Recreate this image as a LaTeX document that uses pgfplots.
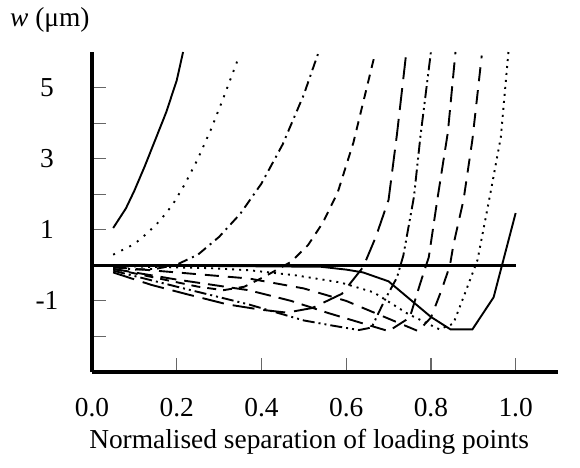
\documentclass[border=0pt]{standalone}
\usepackage{fontspec}
\setmainfont{Liberation Serif}
\usepackage{pgfplots}
\pgfplotsset{compat=1.18}
\begin{document}
\fontsize{27.5}{32}\selectfont
\begin{tikzpicture}
\useasboundingbox (-92bp,-96bp) rectangle (488bp,372bp);
\begin{axis}[
 at={(0,0)}, anchor=south west,
 scale only axis, width=466bp, height=320bp,
 xmin=0, xmax=1.1, ymin=-3, ymax=6,
 axis x line=bottom, axis y line=left,
 axis line style={-, line width=4bp},
 tick align=inside, major tick length=14bp,
 tick style={black!60, line width=1.2bp},
 xtick={0,0.2,0.4,0.6,0.8,1.0}, xticklabels={0.0,0.2,0.4,0.6,0.8,1.0},
 ytick={-2,-1,0,1,2,3,4,5}, yticklabels={,-1,,1,,3,,5},
 xticklabel style={anchor=center, yshift=-36bp},
 yticklabel style={anchor=center, xshift=-45bp},
 xlabel={Normalised separation of loading points},
 xlabel style={at={(axis description cs:0.466,-0.219)}, anchor=center},
 ylabel={\textit{w} (μm)},
 ylabel style={rotate=-90, at={(axis description cs:-0.176,1.10)}, anchor=west, inner sep=0pt},
 clip=true,
 every axis plot/.append style={line width=1.9bp, black, no markers},
]
% zero line
\addplot[line width=2.6bp] coordinates {(0,0) (1.0,0)};
% A solid
\addplot[solid] coordinates {(0.05,1.05) (0.08,1.6) (0.1,2.1) (0.125,2.8) (0.15,3.55) (0.175,4.3) (0.2,5.2) (0.215,6.0)};
% B dotted
\addplot[dash pattern=on 2bp off 7bp] coordinates {(0.05,0.3) (0.1,0.6) (0.13,0.9) (0.16,1.25) (0.19,1.7) (0.22,2.3) (0.25,3.0) (0.28,3.8) (0.31,4.7) (0.343,5.75)};
% C dash-dot
\addplot[dash pattern=on 10bp off 5bp on 2bp off 5bp] coordinates {(0.05,-0.05) (0.1,-0.12) (0.15,-0.1) (0.2,0.02) (0.25,0.3) (0.3,0.8) (0.35,1.45) (0.4,2.3) (0.45,3.4) (0.5,4.8) (0.535,6.0)};
% D short dash
\addplot[dash pattern=on 9bp off 7bp] coordinates {(0.05,-0.1) (0.15,-0.35) (0.25,-0.6) (0.31,-0.7) (0.36,-0.6) (0.41,-0.3) (0.47,0.1) (0.51,0.57) (0.545,1.2) (0.58,2.05) (0.617,3.45) (0.667,5.9)};
% E long dash
\addplot[dash pattern=on 22bp off 9bp] coordinates {(0.05,-0.2) (0.14,-0.55) (0.22,-0.8) (0.32,-1.1) (0.4,-1.25) (0.46,-1.33) (0.52,-1.2) (0.59,-0.8) (0.64,-0.05) (0.67,0.8) (0.70,1.84) (0.72,3.7) (0.742,6.0)};
% F dash-dot-dot
\addplot[dash pattern=on 12bp off 4bp on 2bp off 4bp on 2bp off 4bp] coordinates {(0.05,-0.15) (0.2,-0.6) (0.37,-1.1) (0.5,-1.55) (0.57,-1.7) (0.63,-1.82) (0.66,-1.75) (0.69,-1.0) (0.72,-0.34) (0.735,0.28) (0.76,1.93) (0.775,3.6) (0.80,6.0)};
% G long dash
\addplot[dash pattern=on 16bp off 8bp] coordinates {(0.05,-0.1) (0.2,-0.4) (0.37,-0.7) (0.47,-1.0) (0.56,-1.35) (0.63,-1.6) (0.70,-1.85) (0.75,-1.47) (0.775,-0.5) (0.795,0.23) (0.815,1.84) (0.84,3.74) (0.858,6.0)};
% H long dash
\addplot[dash pattern=on 14bp off 9bp] coordinates {(0.05,-0.05) (0.2,-0.2) (0.37,-0.37) (0.5,-0.65) (0.6,-1.0) (0.7,-1.5) (0.77,-1.85) (0.80,-1.47) (0.825,-0.7) (0.845,0) (0.853,0.57) (0.877,1.84) (0.898,3.54) (0.92,5.9)};
% I dense dots
\addplot[dash pattern=on 2bp off 5bp] coordinates {(0.05,-0.02) (0.28,-0.08) (0.373,-0.14) (0.48,-0.28) (0.586,-0.48) (0.665,-0.76) (0.745,-1.36) (0.82,-1.8) (0.853,-1.64) (0.88,-0.8) (0.91,0.15) (0.94,2.0) (0.965,3.6) (0.983,6.0)};
% J solid
\addplot[solid] coordinates {(0.05,0) (0.3,-0.02) (0.54,-0.04) (0.6,-0.12) (0.64,-0.2) (0.70,-0.45) (0.75,-0.95) (0.8,-1.45) (0.846,-1.8) (0.898,-1.8) (0.948,-0.9) (1.0,1.47)};
\end{axis}
\end{tikzpicture}
\end{document}
